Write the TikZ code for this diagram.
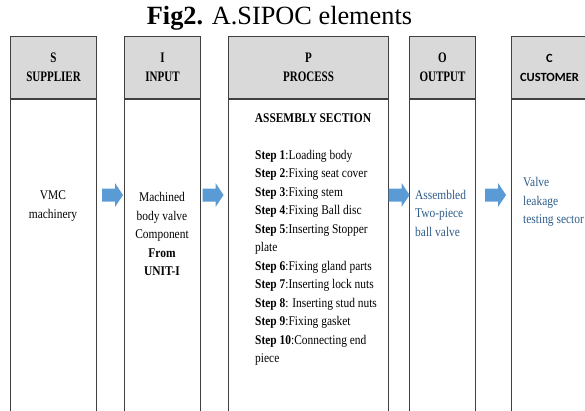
\documentclass[tikz,border=0pt]{standalone}
\usepackage{fontspec}
\setmainfont{Liberation Serif}[FakeStretch=0.86]
\newfontfamily\titlefont{Liberation Serif}
\newfontfamily\hdrfont{Liberation Serif}[FakeStretch=0.76]
\newfontfamily\calfont{Carlito}
\definecolor{hdrgray}{HTML}{D9D9D9}
\definecolor{linegray}{HTML}{404040}
\definecolor{arrowblue}{HTML}{5B9BD5}
\definecolor{textblue}{HTML}{2E5C8A}
\tikzset{
  hdr/.style={draw=linegray, line width=1pt, fill=hdrgray, anchor=north west, minimum height=62pt, inner sep=0pt, align=center, font=\hdrfont\fontsize{14.5}{19}\selectfont\bfseries},
  colbody/.style={draw=linegray, line width=1pt, fill=white, anchor=north west, minimum height=330pt, inner sep=0pt},
  btext/.style={inner sep=0pt, font=\fontsize{13.3}{18.5}\selectfont},
  barrow/.pic={\fill[arrowblue] (-10.5,-6.5) -- (2.5,-6.5) -- (2.5,-12) -- (10.5,0) -- (2.5,12) -- (2.5,6.5) -- (-10.5,6.5) -- cycle;}
}
\begin{document}
\begin{tikzpicture}[x=1pt,y=-1pt]
\useasboundingbox (0,0) rectangle (585,410);
\clip (0,0) rectangle (585,410);
% title
\node[inner sep=0pt, font=\titlefont\fontsize{26.3}{29}\selectfont] (title) at (279.5,18) {\textbf{Fig2.} A.SIPOC elements};
% headers
\node[hdr, minimum width=86pt] (Sh) at (10,36) {S\\SUPPLIER};
\node[hdr, minimum width=76pt] (Ih) at (124,36) {I\\INPUT};
\node[hdr, minimum width=160pt] (Ph) at (228,36) {P\\PROCESS};
\node[hdr, minimum width=66pt] (Oh) at (409,36) {O\\OUTPUT};
\node[hdr, minimum width=76pt, font=\calfont\fontsize{12.5}{19}\selectfont\bfseries] (Ch) at (511,36) {C\\CUSTOMER};
% bodies
\node[colbody, minimum width=86pt] (Sb) at (Sh.south west) {};
\node[colbody, minimum width=76pt] (Ib) at (Ih.south west) {};
\node[colbody, minimum width=160pt] (Pb) at (Ph.south west) {};
\node[colbody, minimum width=66pt] (Ob) at (Oh.south west) {};
\node[colbody, minimum width=76pt] (Cb) at (Ch.south west) {};
% texts
\node[btext, align=center] (St) at (53,206) {VMC\\machinery};
\node[btext, align=center] (It) at (162,234) {Machined\\body valve\\Component\\\textbf{From}\\\textbf{UNIT-I}};
\node[btext, font=\fontsize{13.3}{18.5}\selectfont\bfseries] (Pa) at (313,118) {ASSEMBLY SECTION};
\node[btext, align=left, anchor=west] (Pt) at (255,258) {\textbf{Step 1}:Loading body\\
\textbf{Step 2}:Fixing seat cover\\
\textbf{Step 3}:Fixing stem\\
\textbf{Step 4}:Fixing Ball disc\\
\textbf{Step 5}:Inserting Stopper\\
plate\\
\textbf{Step 6}:Fixing gland parts\\
\textbf{Step 7}:Inserting lock nuts\\
\textbf{Step 8}: Inserting stud nuts\\
\textbf{Step 9}:Fixing gasket\\
\textbf{Step 10}:Connecting end\\
piece};
\node[btext, align=left, anchor=west, text=textblue] (Ot) at (415,213) {Assembled\\Two-piece\\ball valve};
\node[btext, align=left, anchor=west, text=textblue] (Ct) at (523,202) {Valve\\leakage\\testing sector};
% arrows
\pic (a1) at (112.5,195) {barrow};
\pic (a2) at (213,195) {barrow};
\pic (a3) at (399,195) {barrow};
\pic (a4) at (495.5,195) {barrow};
\end{tikzpicture}
\end{document}
